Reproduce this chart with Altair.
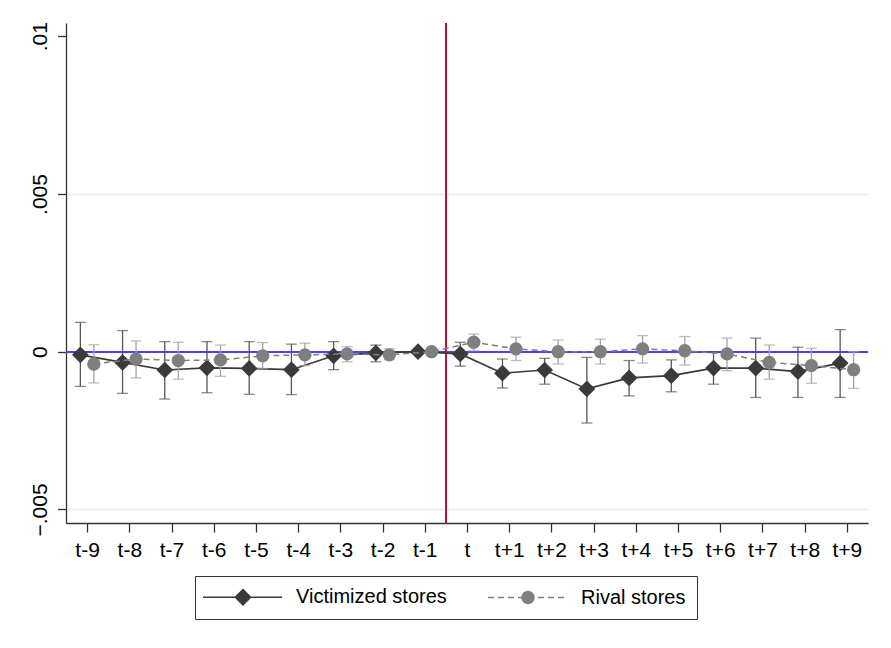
import math
import altair as alt
import pandas as pd

# ---------------- data ----------------
periods = list(range(-9, 10))
period_labels = ["t-9", "t-8", "t-7", "t-6", "t-5", "t-4", "t-3", "t-2", "t-1",
                 "t", "t+1", "t+2", "t+3", "t+4", "t+5", "t+6", "t+7", "t+8", "t+9"]

vic_b = [-0.00010, -0.00034, -0.00058, -0.00051, -0.00053, -0.00057, -0.00013, -0.00004, 0.0,
         -0.00007, -0.00068, -0.00058, -0.00118, -0.00083, -0.00076, -0.00052, -0.00052, -0.00063, -0.00036]
vic_hi = [0.00093, 0.00067, 0.00032, 0.00032, 0.00032, 0.00024, 0.00032, 0.00021, None,
          0.00030, -0.00023, -0.00021, -0.00018, -0.00028, -0.00026, 0.00000, 0.00043, 0.00014, 0.00070]
vic_lo = [-0.00110, -0.00132, -0.00150, -0.00130, -0.00135, -0.00136, -0.00057, -0.00032, None,
          -0.00046, -0.00115, -0.00103, -0.00226, -0.00140, -0.00127, -0.00103, -0.00145, -0.00145, -0.00145]

riv_b = [-0.00039, -0.00023, -0.00028, -0.00026, -0.00013, -0.00010, -0.00007, -0.00010, 0.0,
         0.00030, 0.00009, 0.00000, 0.00000, 0.00009, 0.00003, -0.00007, -0.00034, -0.00044, -0.00057]
riv_hi = [0.00022, 0.00034, 0.00030, 0.00021, 0.00029, 0.00027, 0.00016, 0.00009, None,
          0.00056, 0.00046, 0.00037, 0.00040, 0.00051, 0.00048, 0.00043, 0.00021, 0.00011, 0.00000]
riv_lo = [-0.00099, -0.00083, -0.00087, -0.00078, -0.00053, -0.00044, -0.00032, -0.00025, None,
          0.00003, -0.00028, -0.00039, -0.00039, -0.00036, -0.00042, -0.00060, -0.00087, -0.00100, -0.00116]

series_names = ["Victimized stores", "Rival stores"]
y_ticks = [-0.005, 0, 0.005, 0.01]

# ---------------- table ----------------
rows = []
for name, b, lo, hi in [(series_names[0], vic_b, vic_lo, vic_hi),
                        (series_names[1], riv_b, riv_lo, riv_hi)]:
    for p, lab, bv, lv, hv in zip(periods, period_labels, b, lo, hi):
        rows.append({"period": p, "label": lab, "series": name, "b": bv, "lo": lv, "hi": hv})
df = pd.DataFrame(rows)

VIC = "#3a3a3a"
RIV = "#7f7f7f"
VIC_CI = "#565656"
RIV_CI = "#a3a3a3"
FONT = "Liberation Sans"

xscale = alt.Scale(domain=[-9.5, 9.5], nice=False, zero=False)
yscale = alt.Scale(domain=[-0.00543, 0.01042], nice=False, zero=False)

x_axis = alt.Axis(values=periods, title=None, grid=False,
                  labelExpr="datum.value == 0 ? 't' : (datum.value > 0 ? 't+' + datum.value : 't' + datum.value)",
                  labelFontSize=21, labelFont=FONT, labelColor="#000", labelPadding=7,
                  tickSize=9, tickColor="#333", tickWidth=1.3,
                  domainColor="#333", domainWidth=1.3, labelFlush=False, labelOverlap=False)
y_axis = alt.Axis(values=y_ticks, title=None, grid=True,
                  gridColor="#e4eef0", gridWidth=1.3,
                  gridOpacity=alt.condition("datum.value > 0.009", alt.value(0), alt.value(1)),
                  labelExpr="datum.value == 0 ? '0' : replace(format(datum.value, '.3~f'), '0.', '.')",
                  labelAngle=270, labelFontSize=21, labelFont=FONT, labelColor="#000", labelPadding=7,
                  tickSize=8.5, tickColor="#333", tickWidth=1.3,
                  domainColor="#333", domainWidth=1.3, labelFlush=False, labelOverlap=False)

base = alt.Chart(df).transform_calculate(
    xpos="datum.period + (datum.series == 'Victimized stores' ? -0.16 : 0.16)"
)

# legend symbols: line + marker paths (unit = sqrt(size)/2 px)
SYM_SIZE = 279
u = math.sqrt(SYM_SIZE) / 2.0
def px(v):
    return round(v / u, 4)

x0, x1, xc = -13.0, 66.0, 27.0
d = 0.92
vic_path = (f"M{px(x0)},0H{px(x1)}"
            f"M{px(xc)},{-d}L{px(xc) + d},0L{px(xc)},{d}L{px(xc) - d},0Z")
r = round((6.65 - 0.6) / u, 4)
dash_parts = []
s = x0
while s < x1:
    e = min(s + 6.0, x1)
    dash_parts.append(f"M{px(s)},0H{px(e)}")
    s += 10.0
riv_path = ("".join(dash_parts) +
            f"M{px(xc) + r},0A{r},{r} 0 1,1 {px(xc) - r},0A{r},{r} 0 1,1 {px(xc) + r},0Z")

legend = alt.Legend(
    title=None, orient="none", legendX=129, legendY=553, direction="horizontal",
    labelFont=FONT, labelFontSize=20, labelColor="#000", labelLimit=400,
    symbolSize=SYM_SIZE, labelOffset=70, columnPadding=37, padding=11,
    symbolStrokeWidth=1.5, symbolOpacity=1,
    strokeColor="#333", fillColor="#ffffff",
)

layers = []
# reference lines
layers.append(alt.Chart(df).mark_rule(color="#4444ff", strokeWidth=1.3).encode(y=alt.datum(0, scale=yscale)))
layers.append(alt.Chart(df).mark_rule(color="#c0103c", strokeWidth=1.2).encode(x=alt.datum(-0.5, scale=xscale)))

for name, lc, cc, dash, shp, sz in [(series_names[0], VIC, VIC_CI, None, "diamond", 279),
                                     (series_names[1], RIV, RIV_CI, [6, 4], "circle", 177)]:
    sub = base.transform_filter(alt.datum.series == name)
    ci = sub.transform_filter("isValid(datum.lo)")
    layers.append(ci.mark_rule(color=cc, strokeWidth=1.3).encode(
        x=alt.X("xpos:Q", scale=xscale, axis=x_axis),
        y=alt.Y("lo:Q", scale=yscale, axis=y_axis), y2="hi:Q"))
    layers.append(ci.mark_tick(color=cc, orient="horizontal", size=11, thickness=1.3).encode(
        x=alt.X("xpos:Q", scale=xscale), y=alt.Y("lo:Q", scale=yscale)))
    layers.append(ci.mark_tick(color=cc, orient="horizontal", size=11, thickness=1.3).encode(
        x=alt.X("xpos:Q", scale=xscale), y=alt.Y("hi:Q", scale=yscale)))
    if dash:
        lm = sub.mark_line(color=lc, strokeWidth=1.5, strokeDash=dash)
    else:
        lm = sub.mark_line(color=lc, strokeWidth=1.7)
    layers.append(lm.encode(x=alt.X("xpos:Q", scale=xscale), y=alt.Y("b:Q", scale=yscale), order="period:Q"))
    layers.append(sub.mark_point(filled=True, opacity=1, strokeWidth=0, shape=shp, size=sz, color=lc).encode(
        x=alt.X("xpos:Q", scale=xscale), y=alt.Y("b:Q", scale=yscale)))

# legend carrier layer (draws no marks; its scales produce the legend)
legend_layer = alt.Chart(df).transform_filter("false").mark_point(filled=True, opacity=1).encode(
    x=alt.X("period:Q", scale=xscale),
    y=alt.Y("b:Q", scale=yscale),
    fill=alt.Fill("series:N", scale=alt.Scale(domain=series_names, range=[VIC, RIV]), legend=legend),
    stroke=alt.Stroke("series:N", scale=alt.Scale(domain=series_names, range=[VIC, RIV]), legend=legend),
    shape=alt.Shape("series:N", scale=alt.Scale(domain=series_names, range=[vic_path, riv_path]), legend=legend),
)
layers.append(legend_layer)

chart = alt.layer(*layers).properties(
    width=802, height=500,
    autosize=alt.AutoSizeParams(type="none"),
    padding={"left": 58, "top": 15, "right": 15, "bottom": 110},
    background="#ffffff"
).configure_view(stroke=None)

chart.save("out.html", embed_options={"renderer": "svg", "actions": False})
